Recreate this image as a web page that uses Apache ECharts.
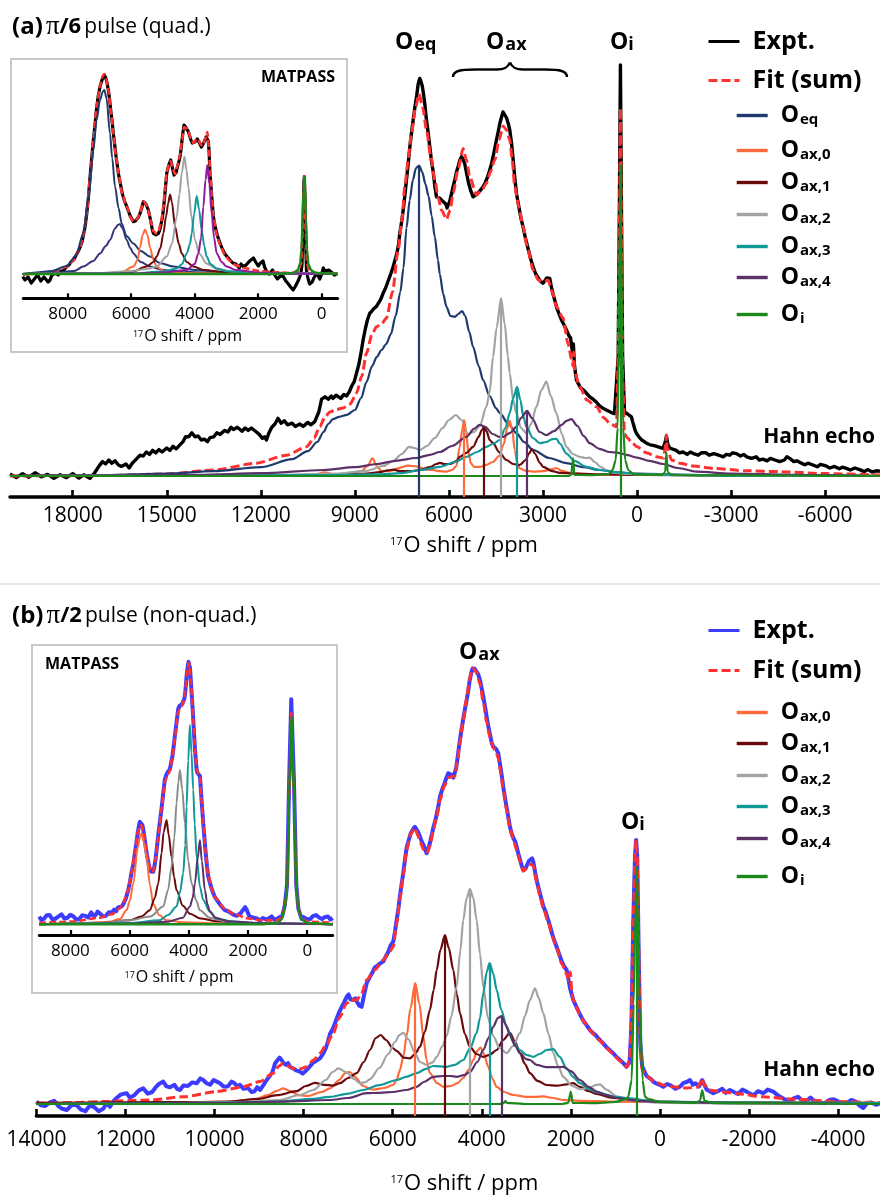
<!DOCTYPE html>
<html>
<head>
<meta charset="utf-8">
<script src="https://cdn.jsdelivr.net/npm/echarts@6/dist/echarts.min.js"></script>
<style>
html,body{margin:0;padding:0;background:#fff;}
#chart{width:880px;height:1196px;}
</style>
</head>
<body>
<div id="chart"></div>
<script>
// ---------- (a) pi/6 pulse, Hahn echo: [ppm, intensity] ----------
const aExpt = [[20000,0.5],[19800,-0.4],[19600,0.6],[19400,-0.3],[19200,0.8],[19000,-0.2],[18800,0.4],[18600,-0.6],[18400,0.3],[18200,-0.4],[18000,0.6],[17800,-0.5],[17650,0.3],[17450,-0.6],[17300,0.8],[17150,2.6],[17050,3.6],[16950,3.0],[16850,4.0],[16750,3.2],[16650,3.8],[16550,2.8],[16450,2.4],[16300,3.0],[16200,2.0],[16100,3.2],[15950,4.4],[15850,5.2],[15750,5.0],[15650,6.0],[15550,5.4],[15450,6.4],[15350,5.8],[15250,6.6],[15150,6.0],[15000,7.0],[14900,6.4],[14800,7.4],[14700,6.8],[14580,7.8],[14480,8.6],[14400,9.8],[14300,9.8],[14200,10.8],[14100,9.8],[14000,10.0],[13900,9.0],[13800,9.2],[13700,8.6],[13620,9.6],[13500,9.8],[13400,10.8],[13300,10.4],[13150,11.4],[13050,11.0],[12950,12.2],[12870,11.6],[12750,12.2],[12600,11.2],[12500,12.0],[12400,11.4],[12300,12.0],[12140,11.0],[12050,10.4],[11950,9.4],[11880,9.8],[11820,9.0],[11750,10.6],[11650,12.2],[11550,13.0],[11450,14.4],[11350,13.2],[11250,13.8],[11150,12.8],[11000,13.2],[10900,12.4],[10760,13.0],[10650,12.4],[10500,13.4],[10400,12.8],[10280,13.6],[10150,16],[10060,19.2],[9950,19.8],[9850,19.2],[9750,20.0],[9694,19.4],[9600,20.2],[9450,19.4],[9350,20.4],[9266,20.0],[9180,21.0],[9100,22.5],[9020,23.6],[8948,25.7],[8870,28],[8800,31],[8737,34],[8660,37],[8600,39],[8524,40.7],[8460,41.2],[8400,41.8],[8340,41.6],[8310,42.4],[8250,43.2],[8200,43.8],[8150,44.6],[8099,45.7],[8020,47.0],[7950,48.5],[7870,50.2],[7780,52.3],[7700,54.5],[7650,56],[7600,58.2],[7567,60.7],[7500,64],[7450,67],[7400,70.5],[7354,74],[7300,78],[7250,82],[7190,86],[7141,89],[7080,92.5],[7030,95],[6980,98],[6930,99.4],[6890,98.6],[6850,97.5],[6810,95.5],[6770,93],[6730,90],[6690,87.5],[6650,85],[6610,82.3],[6560,79],[6500,76],[6450,72.5],[6397,69.8],[6350,70.2],[6300,69.5],[6240,69.0],[6186,68.6],[6140,68.2],[6100,68],[6060,67.0],[6027,67.3],[5970,68.8],[5920,70.5],[5870,72.2],[5813,74],[5760,76],[5700,77.5],[5650,79],[5600,79.8],[5550,79.2],[5494,78],[5440,75.8],[5380,73.5],[5300,71.2],[5230,69.8],[5170,70.0],[5100,70.5],[5000,71.4],[4911,72.3],[4850,73.2],[4780,74.5],[4710,76.2],[4643,78],[4560,81],[4484,84],[4430,86],[4380,88],[4320,89.8],[4273,91],[4210,90.6],[4160,89.5],[4110,88.2],[4059,86.5],[4000,83],[3950,79],[3900,74.6],[3846,70.7],[3790,68.2],[3740,66],[3690,64],[3635,62.3],[3560,59.5],[3480,57],[3400,54.5],[3316,52.3],[3230,50.5],[3150,49.5],[3070,48.6],[2997,48.2],[2940,48.8],[2880,49.5],[2830,50.0],[2784,49.4],[2730,47.2],[2680,45.5],[2620,43.8],[2570,42.3],[2490,40.6],[2411,39],[2330,37.8],[2250,36.5],[2180,35.2],[2120,34.5],[2060,31],[2030,33],[2000,28],[1960,25.5],[1932,24],[1880,23.2],[1800,22],[1720,21.6],[1650,21],[1580,20.4],[1508,19.8],[1400,19.2],[1300,18.5],[1200,17.6],[1100,17],[1040,16.8],[979,16.5],[900,16.2],[800,15.8],[720,15.6],[657,15.3],[600,30],[560,70],[530,102.75],[500,70],[460,30],[400,16],[340,15.8],[300,15.5],[240,15.0],[179,14.8],[140,13.6],[100,12.5],[60,11.4],[19,10.7],[-60,9.8],[-150,9],[-230,8.6],[-300,8.2],[-420,7.8],[-550,7.6],[-700,7.2],[-830,6.9],[-900,8.5],[-937,10],[-980,8],[-1040,7.0],[-1100,6.6],[-1250,6.4],[-1350,5.8],[-1467,6],[-1600,5.4],[-1700,6.0],[-1800,5.6],[-1950,5.2],[-2050,5.8],[-2200,5.8],[-2300,5.2],[-2450,5.6],[-2600,5.2],[-2750,4.8],[-2850,5.4],[-2955,5.2],[-3050,5.8],[-3170,5.6],[-3300,5.0],[-3400,5.4],[-3500,4.8],[-3650,4.4],[-3800,4.8],[-3900,4.0],[-4018,4.2],[-4150,3.8],[-4250,4.4],[-4400,4.0],[-4550,3.6],[-4700,4.0],[-4780,4.8],[-4869,4.4],[-5000,3.6],[-5100,3.8],[-5200,3.4],[-5350,2.8],[-5450,3.2],[-5612,2.75],[-5750,2.3],[-5850,2.9],[-6000,2.6],[-6150,2.0],[-6300,2.4],[-6450,1.8],[-6550,2.2],[-6677,1.9],[-6800,1.5],[-6950,2.0],[-7100,1.6],[-7250,1.1],[-7350,1.6],[-7500,1.0],[-7634,1.3],[-7750,1.2]];
const aFit = [[20000,0],[17000,0.1],[15000,0.5],[13500,1.5],[12140,3.2],[11180,5.2],[10540,7.3],[10300,9.5],[10120,12.3],[9950,14.8],[9800,16],[9600,16.6],[9375,17],[9150,18],[8948,20.7],[8780,25],[8629,30.7],[8450,35.5],[8310,37.3],[8150,38],[7991,39.5],[7800,46],[7620,56.5],[7500,64],[7407,72.3],[7300,79],[7195,85.7],[7070,92],[6951,95.5],[6830,92],[6716,86.5],[6580,80],[6451,74],[6340,69.5],[6237,66.5],[6078,64.2],[5960,66.5],[5866,70.7],[5700,77],[5548,81.9],[5440,79],[5335,74.8],[5122,70.25],[4950,71.5],[4802,73.2],[4680,76],[4538,79],[4400,84],[4273,87.5],[4160,86.5],[4059,84],[3980,79],[3900,72.3],[3760,67],[3635,62.3],[3480,56.5],[3316,51.5],[3150,49],[2997,48.6],[2838,49],[2700,46],[2570,42.3],[2360,39.5],[2200,33],[2080,29],[2045,27.5],[2020,31],[1990,26],[1827,22.3],[1600,19],[1295,17.3],[1050,14.5],[870,13.2],[657,12.3],[600,30],[560,65],[530,92],[500,65],[460,25],[400,10.5],[300,9.5],[150,8.2],[0,7.3],[-300,5.8],[-617,4.8],[-850,4.5],[-920,8],[-937,10.25],[-960,7],[-1100,4],[-1360,3.2],[-1800,2.5],[-2423,1.9],[-3500,1.3],[-4500,1.1],[-6000,0.6],[-7750,0.25]];
const aOeq = [[20000,0],[17000,0.2],[15000,0.6],[13500,1.2],[12000,2.2],[11000,4.2],[10500,6.2],[10200,8.5],[10000,11],[9850,13],[9700,14.2],[9500,14.8],[9250,15.3],[9000,16.5],[8800,19.5],[8629,23.5],[8450,27.5],[8300,29.8],[8150,31.5],[8000,33],[7850,35.5],[7700,40],[7550,46],[7450,52],[7354,62],[7250,69],[7150,74],[7050,77],[6950,77.6],[6850,76],[6750,73],[6650,70],[6550,65],[6451,59.8],[6350,54],[6292,50.5],[6180,45.5],[6078,42.3],[5950,40],[5813,39.8],[5700,40.5],[5580,41.2],[5480,40],[5350,36],[5230,32.3],[5050,27.5],[4911,24],[4700,20],[4500,17],[4378,15.7],[4100,13],[3846,10.7],[3600,8.5],[3316,6.5],[2800,4.5],[2252,3.2],[1700,2.2],[1189,1.5],[600,0.9],[0,0.6],[-1500,0.3],[-3000,0.1],[-7750,0]];
const aOax0 = [[20000,0],[12000,0.1],[10300,0.3],[9958,0.9],[9700,0.4],[9200,0.5],[8800,1.2],[8600,2.5],[8438,4.4],[8300,2.5],[8150,1.2],[7887,1.2],[7600,2],[7300,2.6],[7036,2.4],[6700,1.6],[6505,1.5],[6300,1.2],[6080,1.1],[5900,1.5],[5761,2.5],[5655,7.3],[5580,11.5],[5516,14],[5450,11],[5380,6],[5300,3.2],[5200,2.3],[5000,2.3],[4805,2.8],[4600,3.5],[4400,5],[4250,8],[4140,12],[4061,13.8],[3980,11.5],[3900,6.5],[3820,3.2],[3741,1.9],[3550,1.3],[3316,1.1],[3000,1.2],[2750,1.6],[2573,2],[2400,1.3],[2100,0.7],[1500,0.4],[0,0.3],[-3000,0.2],[-7750,0.1]];
const aOax1 = [[20000,0],[12000,0.1],[9500,0.3],[8629,0.6],[8200,1],[7950,1.4],[7780,1.6],[7550,1.2],[7200,1.2],[6929,1.5],[6600,2.2],[6400,3],[6292,3.3],[6150,3],[5950,3],[5750,3.8],[5655,4.8],[5442,5.8],[5230,7.3],[5050,9.8],[4950,11.5],[4878,12.3],[4800,11.2],[4700,9],[4592,8.2],[4400,6],[4167,4],[3950,3],[3741,2.75],[3550,4],[3450,5.6],[3350,6.7],[3250,5.5],[3100,3.3],[2997,2.3],[2700,1.2],[2466,0.8],[2000,0.6],[1000,0.4],[0,0.3],[-3000,0.1],[-7750,0]];
const aOax2 = [[20000,0],[12000,0.2],[9500,0.6],[8629,1.3],[8100,2.5],[7780,3.75],[7500,5.5],[7270,7.3],[7100,7],[6929,6.5],[6700,7.5],[6450,9.5],[6200,12],[6000,14],[5781,15.25],[5600,14],[5388,10.5],[5200,11],[5018,12.5],[4805,17.3],[4700,21],[4592,29.8],[4480,37],[4337,44.4],[4220,38],[4120,30],[4061,25.7],[3950,19],[3848,15.7],[3700,12],[3530,10.7],[3380,13],[3211,17.3],[3050,21.5],[2891,23.6],[2750,20],[2573,15.7],[2400,10.5],[2254,7.3],[2050,5.5],[1829,4.8],[1650,4.5],[1510,4.6],[1350,3.5],[1150,2.2],[978,1.5],[700,0.8],[300,0.5],[0,0.4],[-3000,0.1],[-7750,0]];
const aOax3 = [[20000,0],[10000,0.2],[8000,0.5],[7568,0.7],[6900,1.5],[6292,2.3],[5800,3.5],[5442,4.8],[5100,6],[4805,7.3],[4600,8],[4378,9],[4200,12],[4061,15.7],[3950,19.5],[3826,22.3],[3720,19],[3630,15],[3530,12.3],[3320,9.5],[3105,8.2],[2900,8.5],[2700,9.2],[2573,9.3],[2450,8],[2254,5.6],[2000,3.8],[1616,2.3],[1200,1.5],[600,0.9],[0,0.5],[-1500,0.3],[-3000,0.1],[-7750,0]];
const aOax4 = [[20000,0],[17000,0.1],[14000,0.3],[12000,0.7],[10000,1.5],[9000,2.2],[8300,3],[7700,3.8],[7036,4.5],[6610,5.3],[6292,6],[5900,7.5],[5442,9.8],[5200,11.8],[5018,12.8],[4850,12.3],[4600,10.5],[4400,9.8],[4273,9.8],[4050,10.8],[3848,12.3],[3700,14.5],[3508,16.3],[3350,14.5],[3105,11],[2891,10.2],[2650,11.2],[2400,12.8],[2250,13.8],[2094,14.2],[1900,12.5],[1700,10],[1510,8.2],[1200,6.8],[872,6],[600,5.8],[340,5.3],[0,4.6],[-400,3.8],[-829,3],[-1300,2],[-1894,1.1],[-3000,0.6],[-5000,0.3],[-7750,0]];
const aOi = [[20000,0],[3000,0],[2200,0],[2100,0.3],[2040,4.5],[2000,0.3],[1500,0.2],[900,0.5],[780,1.5],[680,4],[620,12],[580,35],[550,65],[529,77.75],[510,65],[480,35],[440,12],[380,4],[280,1.5],[100,0.4],[-800,0.3],[-900,1],[-937,6],[-975,1],[-1100,0.2],[-7750,0]];

// ---------- (a) inset: MATPASS ----------
const iaExpt = [[9417,-1.3],[9350,-3],[9300,-4],[9250,-1.5],[9200,-2],[9150,-4.5],[9100,-5.5],[9050,-2.5],[9000,-3],[8950,-0.5],[8900,-1],[8850,-3.5],[8800,-4.5],[8750,-1.5],[8700,-2.5],[8620,-4],[8557,-3],[8500,-0.5],[8450,-1],[8380,0.5],[8300,-0.5],[8220,1.5],[8150,1.5],[8090,2.5],[8031,3.7],[7960,4.5],[7900,6],[7820,7],[7750,9],[7680,11],[7613,13.3],[7550,16],[7500,20],[7450,24],[7403,30],[7350,38],[7300,48],[7250,57],[7193,67],[7140,75],[7090,83],[7040,89],[6983,93.7],[6940,96],[6900,98],[6847,99.5],[6810,98.5],[6780,97],[6750,94.5],[6721,92],[6680,87],[6640,81],[6600,76],[6564,70.3],[6520,64.5],[6480,59],[6440,54.5],[6406,50.3],[6340,45],[6280,40],[6210,36.5],[6142,33.7],[6080,31],[6030,29],[5980,27.5],[5934,26.2],[5870,26.5],[5820,27.5],[5770,28.5],[5723,30.3],[5670,33],[5619,36.2],[5580,36],[5540,35],[5500,33.5],[5461,32],[5420,29],[5380,26],[5340,22.5],[5304,20.3],[5260,20],[5220,19.5],[5180,19.5],[5146,20.3],[5100,22],[5060,25],[5020,28],[4989,32],[4960,36.5],[4930,42],[4900,47],[4882,50.3],[4820,54.5],[4756,57],[4720,54.5],[4690,52],[4650,49.5],[4620,48.7],[4580,51],[4540,54],[4500,56],[4463,58.7],[4430,62.5],[4400,67],[4370,71],[4337,74.5],[4300,74],[4270,73],[4235,72],[4201,71.2],[4160,69],[4120,67],[4080,65.5],[4044,64.5],[4000,66],[3960,67],[3920,67.5],[3887,67],[3850,65.5],[3820,64.5],[3790,63.5],[3761,63.7],[3720,65.5],[3680,67],[3640,68.5],[3603,69.5],[3575,66.5],[3550,62],[3535,56],[3518,50.3],[3490,44],[3460,38],[3435,33],[3414,28.7],[3360,24],[3300,20],[3250,17.5],[3203,15.3],[3130,12.5],[3050,10],[2970,8.5],[2888,7],[2800,5.5],[2700,5],[2600,3],[2540,5],[2469,3.7],[2380,4.5],[2300,6],[2230,7],[2150,8],[2080,6],[2000,4],[1930,5.5],[1850,6.5],[1800,3.5],[1732,1.2],[1650,0],[1550,2],[1480,-0.5],[1400,-2.5],[1300,-1],[1209,-1.3],[1130,-3.5],[1050,-5],[980,-6.5],[900,-8],[840,-6.5],[780,-6],[730,-3],[683,-1],[650,1],[620,5],[590,25],[560,46],[548,48.7],[530,40],[505,15],[480,2],[450,-1],[420,-3],[380,-5],[340,-6],[300,-4],[250,-2],[200,-1],[157,0.3],[110,-1],[60,-2.5],[0,0],[-50,3],[-100,1.5],[-150,0.5],[-220,2],[-300,1],[-400,-0.5],[-500,0.3]];
const iaFit = [[9417,-0.3],[9000,0.2],[8500,1],[8031,3.5],[7800,7],[7613,13.3],[7500,20],[7403,30],[7300,47],[7193,67],[7090,84],[6983,94],[6900,99],[6847,100],[6780,97.5],[6721,92],[6640,81],[6564,70.3],[6480,59],[6406,50.3],[6280,40],[6142,33.7],[6030,28.5],[5934,26.2],[5820,27.5],[5723,30.3],[5619,36.2],[5540,35],[5461,32],[5380,26],[5304,21.5],[5220,20.3],[5146,21],[5060,26],[4989,33],[4930,43],[4882,51],[4810,55],[4756,56.5],[4690,52.5],[4620,50],[4540,54.5],[4463,59.5],[4400,67],[4337,73.5],[4270,73],[4201,71.2],[4120,67.5],[4044,65.5],[3960,67],[3887,67.5],[3820,65],[3761,64],[3680,67],[3603,71],[3550,63],[3518,52],[3460,39],[3414,29],[3300,19.5],[3203,14.5],[3050,9.5],[2888,6.5],[2700,4.3],[2469,3],[2000,1.6],[1500,0.9],[1000,0.5],[750,1],[650,5],[600,20],[570,42],[548,49],[525,42],[500,20],[460,5],[400,1.5],[157,0.5],[-500,0.2]];
const iaOeq = [[9417,0],[9000,0.8],[8500,1.5],[8031,4],[7750,9],[7508,20.3],[7350,38],[7193,62],[7090,77],[6983,87],[6900,91],[6847,92],[6780,88],[6669,70.3],[6600,58],[6511,43.7],[6400,33],[6301,25.3],[6150,19],[5934,15.3],[5700,11.5],[5409,8.7],[5100,5.5],[4673,3.7],[4000,2],[3308,1.2],[2000,0.5],[0,0.2],[-500,0.1]];
const iaOeq2 = [[9417,0],[8500,0.5],[7800,1.5],[7508,3.7],[7200,6.5],[6983,10.3],[6800,14],[6669,17],[6511,22.8],[6420,24.5],[6354,25],[6280,23],[6142,17],[6030,13],[5934,10.3],[5700,6],[5409,3.7],[5000,2],[4500,1.2],[3500,0.6],[2000,0.2],[-500,0]];
const iaOax0 = [[9417,0],[7000,0.3],[6300,1],[5934,3.7],[5800,7],[5723,13.3],[5640,19.5],[5566,22.3],[5490,19.5],[5409,13.3],[5300,7],[5199,3.7],[5000,1.6],[4673,0.8],[4000,0.4],[2000,0.1],[-500,0]];
const iaOax1 = [[9417,0],[7000,0.3],[6000,1],[5514,3.7],[5300,6],[5199,8.7],[5080,13],[4989,20.3],[4900,29],[4840,35],[4778,39.8],[4720,36],[4620,23.7],[4500,15],[4410,10.3],[4250,6],[4044,3.7],[3700,2],[3000,0.8],[2000,0.3],[-500,0]];
const iaOax2 = [[9417,0],[7000,0.5],[6000,1.5],[5500,2.5],[5199,3.7],[4882,8.7],[4720,15],[4567,28.7],[4480,40],[4410,50.3],[4326,58.7],[4260,52],[4201,43.7],[4100,28],[3992,17],[3850,10],[3625,5.3],[3300,2.5],[2800,1.2],[2000,0.5],[-500,0]];
const iaOax3 = [[9417,0],[6000,0.3],[5000,1.2],[4567,2.8],[4400,5],[4253,10.3],[4150,15],[4095,20.3],[4020,30],[3937,39],[3860,32],[3782,22],[3700,14],[3625,8.7],[3500,5],[3308,2.8],[3000,1.4],[2000,0.5],[-500,0]];
const iaOax4 = [[9417,0],[6000,0.3],[5000,0.8],[4253,2],[4000,5],[3887,10.3],[3800,18],[3729,33.7],[3660,47],[3603,54.5],[3540,45],[3467,30.3],[3390,18],[3308,10.3],[3150,6],[2993,3.7],[2700,2],[2000,0.8],[1000,0.3],[-500,0]];
const iaOi = [[9417,0],[1500,0],[900,0.5],[750,2],[683,5.3],[640,12],[600,28],[570,43],[548,48.7],[525,43],[495,28],[460,12],[420,5],[337,2],[200,0.5],[-500,0]];

// ---------- (b) pi/2 pulse, Hahn echo ----------
const bExpt = [[14000,0.6],[13900,-0.3],[13800,-0.5],[13700,0.4],[13600,0.8],[13500,-0.6],[13420,-1.2],[13320,-1.5],[13200,-0.2],[13100,-0.3],[13000,-1.4],[12900,-1.8],[12800,-0.4],[12700,-0.8],[12600,-1.8],[12500,-1.2],[12420,0.2],[12348,-0.7],[12280,0.6],[12200,1.5],[12100,2.4],[11974,2.7],[11900,1.6],[11800,2.2],[11700,3.4],[11601,3.9],[11500,2.6],[11400,3],[11320,4.2],[11250,5],[11152,5.6],[11080,4.4],[11000,4.2],[10900,4.8],[10840,3.8],[10777,3.5],[10700,4.6],[10600,4.5],[10500,5.4],[10400,5.2],[10320,6.4],[10254,6],[10180,5.2],[10100,4.8],[10020,6.0],[9950,5.6],[9879,5.2],[9800,4.4],[9700,4.4],[9620,5.6],[9550,5.2],[9490,4.4],[9430,4.8],[9350,3.8],[9250,4],[9170,3.0],[9100,3.2],[9040,4.2],[8981,3.5],[8900,4.8],[8831,6],[8760,7.0],[8700,8],[8640,10.2],[8600,10],[8540,11.6],[8494,11],[8450,10.2],[8400,9.8],[8350,10.2],[8300,9.2],[8233,8.9],[8170,8.4],[8100,8.2],[8020,7.6],[7932,8.5],[7860,9.4],[7800,10.2],[7720,10.8],[7633,11.4],[7560,12.6],[7500,14],[7450,15.8],[7409,17.5],[7335,19],[7270,21],[7200,23],[7110,25],[7034,26.8],[6990,27.4],[6950,26.2],[6886,26],[6840,26.4],[6800,25.5],[6750,24.6],[6697,24.3],[6640,27.4],[6585,30.2],[6520,31.6],[6450,33],[6400,34.2],[6350,34.5],[6280,35.2],[6213,35.6],[6160,36.8],[6100,38],[6040,39.8],[5988,40.6],[5950,43],[5912,46],[5870,49],[5838,52],[5800,55],[5760,58],[5720,61.5],[5688,64],[5640,66],[5600,67.5],[5550,68.6],[5501,69.3],[5460,68.8],[5430,68],[5388,66.8],[5340,65.4],[5300,64.5],[5270,63.6],[5238,62.7],[5200,63.8],[5160,65.5],[5120,67.4],[5090,69],[5050,70.6],[5010,72.5],[4970,74.8],[4939,76.8],[4890,78.6],[4840,80],[4800,81.4],[4753,82.7],[4710,82.6],[4680,82.3],[4640,81.6],[4603,81.8],[4575,84],[4550,86],[4520,88.6],[4490,91],[4455,93.6],[4420,96],[4380,98.6],[4340,101],[4300,103.6],[4270,106],[4235,107.8],[4206,108.9],[4160,108.8],[4120,108.3],[4080,107.4],[4041,106],[4000,103.8],[3960,101.5],[3925,99.2],[3891,96.8],[3850,94.2],[3810,92],[3775,90.2],[3742,89.3],[3710,89.6],[3680,88.8],[3655,88.4],[3630,87.7],[3600,85.6],[3570,83.5],[3545,81.6],[3518,79.3],[3480,76.6],[3440,74],[3400,71.4],[3368,69.3],[3330,67.6],[3290,66.5],[3250,65.6],[3218,64.3],[3180,62.6],[3140,61],[3100,59.4],[3069,58.5],[3020,58.8],[2980,59.8],[2940,60.8],[2900,61],[2870,61.4],[2844,60.6],[2810,58.4],[2770,56],[2730,54.2],[2694,52.7],[2660,51.2],[2620,49.5],[2560,47.8],[2508,46],[2460,44.2],[2420,42.5],[2370,40.8],[2320,39.3],[2260,37.4],[2200,35.5],[2150,34.4],[2095,33.5],[2060,31.6],[2020,29],[1980,27.4],[1946,26],[1880,24.4],[1800,22.5],[1750,21.4],[1700,20.5],[1640,19.6],[1572,18.5],[1510,17.8],[1450,17.3],[1400,16.6],[1347,16],[1280,15.2],[1200,14.2],[1120,13.4],[1048,12.7],[980,11.8],[900,11],[820,10.2],[748,9.3],[680,10.5],[640,20],[600,45],[560,62],[535,66],[510,62],[480,40],[440,15],[400,9.5],[350,8.2],[300,7],[250,6.6],[200,6.2],[150,5.6],[100,5.2],[0,4.8],[-74,4.3],[-160,5.0],[-250,4.6],[-350,3.8],[-449,4.3],[-520,5.2],[-600,5.5],[-674,6],[-740,4.8],[-800,5.2],[-880,4.4],[-950,6],[-1000,4.8],[-1050,3.6],[-1120,3.2],[-1197,2.7],[-1300,3.2],[-1400,3.8],[-1480,2.8],[-1571,3.5],[-1660,3.0],[-1750,2.5],[-1850,3.6],[-1946,3.1],[-2020,2.6],[-2100,2.2],[-2200,3.2],[-2320,2.7],[-2420,3.6],[-2545,3.1],[-2620,2.4],[-2700,1.8],[-2800,1.2],[-2919,0.6],[-3000,1.4],[-3100,1.8],[-3200,0.8],[-3300,0.8],[-3380,1.6],[-3442,1],[-3560,0.4],[-3700,0.2],[-3800,1.0],[-3900,1.2],[-4050,0.4],[-4191,0.2],[-4300,1.0],[-4400,0.6],[-4480,-0.4],[-4565,-1],[-4650,0.2],[-4750,0.4],[-4850,-0.2],[-4950,0.2]];
const bFit = [[14000,0.2],[13000,0.4],[12573,0.6],[11451,1],[10703,1.8],[9954,3.1],[9355,4.3],[8981,5.6],[8682,7.7],[8550,9.5],[8457,10.2],[8350,9.5],[8233,8.9],[8080,8.8],[7932,9.3],[7780,11],[7633,12.7],[7480,15],[7335,17.7],[7200,21.5],[7034,25.2],[6930,26],[6810,26],[6700,27.5],[6585,31],[6400,33.5],[6212,36],[6100,37.5],[5988,39.3],[5912,45],[5838,51.5],[5760,57.5],[5688,63.5],[5600,67.5],[5501,69],[5430,67],[5388,65.5],[5300,63.5],[5238,62.7],[5160,64.5],[5090,68.5],[5010,72],[4939,76],[4840,79.5],[4753,81.5],[4680,81.8],[4603,82],[4550,85.5],[4490,90.5],[4420,96],[4340,101.5],[4270,106.5],[4206,109],[4120,108],[4041,105],[3960,100],[3891,95.5],[3810,91.5],[3742,89],[3680,88],[3630,86.5],[3570,82.5],[3518,78.5],[3440,73.5],[3368,69],[3290,66],[3218,63.5],[3140,60.5],[3069,58.2],[2980,59],[2900,60],[2844,59.5],[2770,55.5],[2694,52],[2620,49],[2508,45.5],[2420,42],[2320,39],[2200,35],[2095,32.5],[2050,31],[2010,33],[1980,28],[1946,26],[1800,22.5],[1700,20.5],[1572,18.5],[1450,17],[1347,15.8],[1200,14],[1048,12.5],[900,10.8],[748,9.3],[680,11],[640,22],[600,46],[560,62],[535,66],[510,62],[480,40],[440,15],[400,8.5],[300,7],[150,5.8],[-74,4.75],[-300,4.3],[-600,4],[-850,4.2],[-920,5.5],[-950,6.4],[-980,5],[-1100,3.5],[-1400,3],[-1800,2.5],[-2300,1.8],[-3000,1.2],[-4000,0.6],[-4950,0.3]];
const bOax0 = [[14000,0.1],[12000,0.2],[10500,0.3],[9589,0.6],[9100,1.2],[8800,2.2],[8600,3.3],[8457,3.9],[8300,3.2],[8100,2.2],[7900,2],[7600,3],[7409,3.9],[7200,6],[7060,7.8],[6960,8],[6850,6.8],[6660,4.5],[6511,3.8],[6437,3.6],[6200,4],[5987,4.8],[5913,6],[5838,8.5],[5760,12],[5687,17],[5600,24],[5494,30.2],[5400,25],[5314,17],[5240,11],[5165,7.7],[5000,5.2],[4865,4.3],[4700,4.5],[4550,5.2],[4416,6.5],[4300,8.5],[4192,11],[4100,13.3],[4026,14.1],[3950,12.5],[3854,9.3],[3760,6.3],[3666,4.3],[3500,3],[3292,2.25],[3000,1.8],[2800,1.8],[2619,1.9],[2400,1.5],[2170,1],[1800,0.8],[1000,0.6],[0,0.5],[-2000,0.4],[-4950,0.3]];
const bOax1 = [[14000,0.3],[12000,0.4],[10500,0.5],[9654,0.6],[9000,1.3],[8600,2.2],[8158,3.2],[7950,4.5],[7747,5.3],[7550,4.8],[7350,4.6],[7184,5.2],[7000,6.5],[6810,7.7],[6650,10.5],[6511,13.5],[6380,16.5],[6271,17.25],[6150,16],[6000,14],[5913,13.3],[5750,11.6],[5613,11.4],[5500,12.5],[5389,14.3],[5280,18],[5165,23.5],[5080,28.5],[5013,33.5],[4930,38.5],[4827,42.25],[4740,39],[4640,33.5],[4560,27.5],[4490,22.7],[4380,17.5],[4266,14.3],[4120,12.5],[3966,11.8],[3820,12.3],[3666,13.5],[3520,16],[3368,17.8],[3250,15.5],[3143,12.7],[3030,10],[2919,7.7],[2750,5.8],[2545,4.75],[2300,4.6],[2100,4.9],[1946,5.2],[1800,4.3],[1600,3.2],[1422,2.5],[1100,1.6],[674,1.1],[300,0.8],[0,0.6],[-1000,0.4],[-3000,0.3],[-4950,0.2]];
const bOax2 = [[14000,0],[11000,0.2],[9500,0.5],[8532,1],[8100,2.2],[7783,3.5],[7500,6],[7350,8],[7222,8.9],[7050,8],[6860,6.2],[6735,5.2],[6600,5.5],[6511,6.2],[6300,9],[6100,12.5],[5950,15.5],[5850,17.2],[5763,17.8],[5650,16.2],[5500,12.8],[5390,10.5],[5238,9.8],[5100,10.4],[5013,11.8],[4880,14.5],[4790,17],[4680,22],[4566,29.3],[4480,38.5],[4416,46],[4340,51.5],[4266,53.7],[4190,51.5],[4117,46],[4040,37.5],[3966,29.3],[3860,21.5],[3742,17],[3600,14],[3443,12.7],[3300,14.5],[3143,17.7],[3030,22],[2919,26],[2807,28.9],[2720,26.5],[2620,22.7],[2500,17.5],[2395,12.7],[2280,9.3],[2170,6.8],[1980,4.6],[1796,3.7],[1600,4],[1422,4.8],[1347,4.9],[1200,3.6],[973,1.9],[700,1],[300,0.5],[0,0.3],[-2000,0.1],[-4950,0]];
const bOax3 = [[14000,0],[10000,0.3],[8532,0.6],[7800,1.3],[7409,1.8],[7000,2.6],[6660,3.5],[6300,4.7],[5913,6],[5700,6.8],[5462,7.7],[5250,8.8],[5090,9.5],[4950,9.4],[4790,9.3],[4600,9.8],[4416,11],[4260,14],[4117,17.7],[4040,21.5],[3966,27.7],[3890,33],[3824,35.2],[3740,32.5],[3666,28.5],[3560,23.5],[3443,19.3],[3290,15.5],[3143,13.5],[3000,12.3],[2844,11.8],[2700,12.5],[2540,13.5],[2395,13.7],[2250,11.8],[2096,8.9],[1950,6.8],[1796,5.2],[1600,3.8],[1422,2.9],[1000,1.8],[674,1.4],[300,0.9],[0,0.6],[-1500,0.4],[-4950,0.3]];
const bOax4 = [[14000,0],[10000,0.2],[8500,0.6],[7409,1],[7000,1.5],[6585,2.7],[6286,2.8],[6000,3],[5700,3.5],[5462,4.3],[5300,5.5],[5089,6.8],[4865,7],[4700,7],[4566,6.8],[4400,7.2],[4266,8],[4100,10.5],[3966,13.5],[3850,16.5],[3742,19.3],[3640,21.5],[3554,22],[3470,20],[3368,17.3],[3250,14.5],[3143,12.7],[3000,11.2],[2919,11],[2769,9.8],[2550,9.2],[2320,9.2],[2171,9.3],[2000,8.2],[1796,6],[1600,4.3],[1422,3.1],[1200,2.2],[973,1.5],[500,0.8],[0,0.5],[-2000,0.2],[-4950,0]];
const bOi = [[14000,0],[4000,0],[3600,0],[3500,0.3],[3470,0.8],[3440,0.3],[3000,0],[2200,0],[2060,0.3],[2000,3.1],[1960,0.3],[1500,0.2],[1000,0.5],[760,1.2],[711,1.8],[635,6],[590,25],[545,50],[523,59.3],[500,50],[460,25],[388,6],[337,1.8],[250,1.2],[0,0.5],[-800,0.3],[-900,0.8],[-950,3.5],[-1000,0.8],[-1200,0.2],[-4950,0]];

// ---------- (b) inset: MATPASS ----------
const ibExpt = [[9054,2.9],[8980,1.6],[8900,2],[8800,3.4],[8700,3.5],[8600,1.8],[8500,2.2],[8400,3.0],[8300,3.8],[8200,2.2],[8100,2.5],[8000,3.6],[7900,3],[7800,1.8],[7700,2],[7600,3.4],[7500,3.2],[7400,2.6],[7300,4.5],[7220,3.2],[7150,3.5],[7080,4.8],[7003,4.1],[6900,3.0],[6800,3.2],[6700,4.6],[6600,4.5],[6520,5.6],[6450,5],[6390,6.4],[6328,6],[6260,6.8],[6200,8],[6120,10],[6047,13],[5990,16],[5930,20],[5870,23],[5821,27],[5770,31],[5720,35],[5680,37.6],[5652,38.8],[5625,39.2],[5600,38.5],[5570,37.6],[5541,36.2],[5500,33],[5450,29],[5410,26],[5372,23.7],[5330,21.4],[5280,20],[5240,19.4],[5203,19.9],[5160,22],[5120,25],[5075,29.4],[5034,33.6],[4980,38.6],[4920,44],[4860,50],[4808,55],[4760,56.6],[4720,57.5],[4680,57.8],[4639,58.8],[4600,61],[4550,64],[4510,67.6],[4470,71.4],[4420,76],[4358,81.6],[4310,82.8],[4260,83],[4225,83.4],[4189,84.1],[4150,85.4],[4120,88],[4095,91],[4074,94.2],[4050,96.4],[4030,98],[4008,99.4],[3986,100],[3960,97],[3930,92],[3890,85],[3851,77.8],[3820,71.6],[3790,66],[3760,61.8],[3737,58.8],[3710,57.4],[3680,57],[3650,56.8],[3625,56.2],[3598,52],[3570,47],[3540,42.6],[3514,38.5],[3470,32.4],[3430,27],[3390,22.4],[3345,18.2],[3270,15],[3200,12.5],[3130,10.6],[3063,9.4],[2950,7.6],[2800,5.5],[2650,4.8],[2500,3.7],[2380,3.2],[2250,4.2],[2170,5.4],[2100,6.5],[2047,5.6],[2000,4.2],[1950,3],[1850,2.6],[1700,2.2],[1600,1.4],[1500,2.4],[1372,1.8],[1280,2.4],[1200,3],[1100,1.6],[1000,2.2],[920,2.8],[850,3],[760,7],[683,15],[610,55],[540,85.2],[450,55],[370,15],[300,6],[190,2],[140,2.8],[100,3],[0,1.8],[-100,2],[-200,3.2],[-300,3.5],[-400,2.6],[-500,2],[-600,2.8],[-700,3],[-780,1.8],[-860,2.4]];
const ibFit = [[9054,0.5],[8000,1],[7003,2.5],[6600,3.8],[6328,6],[6200,8.5],[6047,13],[5930,20],[5821,27],[5720,35],[5652,37.5],[5600,37.5],[5541,35.5],[5450,29],[5372,23.5],[5280,20],[5203,20],[5120,25],[5034,33],[4920,44],[4808,54],[4720,56.5],[4639,58],[4550,63.5],[4470,71],[4358,80.5],[4260,82.5],[4189,84],[4120,88],[4074,94],[4030,97.5],[3986,99],[3930,91.5],[3851,78],[3790,66],[3737,59],[3680,57],[3625,56],[3570,47],[3514,38.5],[3430,27],[3345,18.5],[3200,12.5],[3063,9.5],[2800,6],[2500,4],[2000,2.2],[1500,1.5],[1000,1.5],[865,2.5],[760,6.5],[683,14],[610,50],[540,80],[450,50],[370,14],[300,6],[190,2],[0,1],[-860,0.6]];
const ibOax0 = [[9054,0],[7500,0.5],[6700,1],[6328,2],[6103,5.3],[5990,9],[5878,15.4],[5720,29.3],[5650,33],[5595,34.5],[5520,31],[5427,25.5],[5315,15],[5203,7.8],[5000,3.5],[4752,1.5],[4200,0.8],[3000,0.3],[-860,0]];
const ibOax1 = [[9054,0],[7000,0.5],[6000,1.5],[5600,3],[5315,5.3],[5150,10],[5034,15.4],[4920,27],[4850,35],[4752,39.5],[4680,34],[4583,25.5],[4500,18],[4414,12.9],[4200,7],[3964,4],[3600,2.2],[3100,1.2],[2000,0.4],[-860,0]];
const ibOax2 = [[9054,0],[7000,0.5],[6000,1.5],[5300,3],[4864,6.7],[4700,13],[4583,21.9],[4490,33],[4414,46],[4350,54],[4301,58.4],[4220,51],[4132,38.3],[4020,24],[3907,15.6],[3750,9],[3625,5.3],[3300,2.5],[2800,1.2],[2000,0.5],[-860,0]];
const ibOax3 = [[9054,0],[6000,0.5],[5000,1.5],[4700,3.5],[4414,6.7],[4300,12],[4189,19.4],[4120,30],[4076,44.6],[4020,62],[3963,75.5],[3910,65],[3851,50.9],[3800,38],[3737,25.6],[3620,14],[3514,9.2],[3300,5],[3063,2.2],[2500,1],[1500,0.4],[-860,0]];
const ibOax4 = [[9054,0],[6000,0.3],[4700,1],[4200,2.5],[3963,6.7],[3870,10],[3794,15.4],[3700,25],[3625,31.9],[3560,24],[3456,12.9],[3370,7.5],[3287,4.7],[3100,2.5],[2700,1.2],[1500,0.4],[-860,0]];
const ibOi = [[9054,0],[1500,0],[1000,0.5],[865,1.8],[760,6],[683,13],[610,50],[527,78.6],[445,50],[370,13],[300,6],[190,1.8],[0,0.5],[-860,0]];

// ---------- tick labels ----------
const ticksA = [18000,15000,12000,9000,6000,3000,0,-3000,-6000];
const ticksB = [14000,12000,10000,8000,6000,4000,2000,0,-2000,-4000];
const ticksInset = [8000,6000,4000,2000,0];

// ---------- styling ----------
const FONT = "'Open Sans', 'Noto Sans', 'DejaVu Sans', sans-serif";
const C = {
  expt: '#000000', exptB: '#3c3cff', fit: '#ff3030',
  eq: '#1f3a6e', eq2: '#34347a', ax0: '#ff6a3a', ax1: '#6a0a0a', ax2: '#a3a3a3',
  ax3: '#11999a', ax4: '#5b3167', ax4i: '#8e1a9e', oi: '#1b8a1b'
};
const Y = { a: [-5.25, 109], ia: [-12.15, 104], b: [-3, 116], ib: [-4.05, 102] };

function peakOf(d) { let p = d[0]; for (const q of d) if (q[1] > p[1]) p = q; return p; }

function line(name, data, axis, color, width, opt) {
  opt = opt || {};
  const s = {
    type: 'line', name: name, data: data, xAxisIndex: axis, yAxisIndex: axis,
    symbol: 'none', smooth: opt.smooth === undefined ? 0.3 : opt.smooth,
    smoothMonotone: 'x', z: opt.z || 4, silent: true, animation: false,
    lineStyle: { color: color, width: width, type: opt.dash || 'solid', cap: 'butt', join: 'round' },
    itemStyle: { color: color }
  };
  if (opt.drop !== undefined) {
    const p = peakOf(data);
    s.markLine = {
      silent: true, animation: false, symbol: ['none', 'none'], label: { show: false },
      lineStyle: { color: color, width: width, type: 'solid' },
      emphasis: { disabled: true },
      data: [[{ coord: [p[0], p[1]] }, { coord: [p[0], opt.drop] }]]
    };
  }
  return s;
}

const series = [
  // (a) main
  line('a-expt', aExpt, 0, C.expt, 3.4, { smooth: false, z: 2 }),
  line('a-fit', aFit, 0, C.fit, 3, { smooth: 0.25, z: 3, dash: [9, 4] }),
  line('a-eq', aOeq, 0, C.eq, 2.2, { drop: Y.a[0] }),
  line('a-ax0', aOax0, 0, C.ax0, 2.2, { drop: Y.a[0] }),
  line('a-ax1', aOax1, 0, C.ax1, 2.2, { drop: Y.a[0] }),
  line('a-ax2', aOax2, 0, C.ax2, 2.2, { drop: Y.a[0] }),
  line('a-ax3', aOax3, 0, C.ax3, 2.2, { drop: Y.a[0] }),
  line('a-ax4', aOax4, 0, C.ax4, 2.2, { drop: Y.a[0] }),
  line('a-i', aOi, 0, C.oi, 2.2, { drop: Y.a[0], smooth: 0.2 }),
  // (a) inset
  line('ia-expt', iaExpt, 1, C.expt, 3.2, { smooth: false, z: 2 }),
  line('ia-fit', iaFit, 1, C.fit, 2.6, { smooth: 0.25, z: 3, dash: [7, 3] }),
  line('ia-eq', iaOeq, 1, C.eq, 2),
  line('ia-eq2', iaOeq2, 1, C.eq2, 2),
  line('ia-ax0', iaOax0, 1, C.ax0, 2),
  line('ia-ax1', iaOax1, 1, C.ax1, 2),
  line('ia-ax2', iaOax2, 1, C.ax2, 2),
  line('ia-ax3', iaOax3, 1, C.ax3, 2),
  line('ia-ax4', iaOax4, 1, C.ax4i, 2),
  line('ia-i', iaOi, 1, C.oi, 2.4, { smooth: 0.2 }),
  // (b) main
  line('b-expt', bExpt, 2, C.exptB, 4, { smooth: false, z: 2 }),
  line('b-fit', bFit, 2, C.fit, 3, { smooth: 0.25, z: 3, dash: [9, 4] }),
  line('b-ax0', bOax0, 2, C.ax0, 2.2, { drop: Y.b[0] }),
  line('b-ax1', bOax1, 2, C.ax1, 2.2, { drop: Y.b[0] }),
  line('b-ax2', bOax2, 2, C.ax2, 2.2, { drop: Y.b[0] }),
  line('b-ax3', bOax3, 2, C.ax3, 2.2, { drop: Y.b[0] }),
  line('b-ax4', bOax4, 2, C.ax4, 2.2, { drop: Y.b[0] }),
  line('b-i', bOi, 2, C.oi, 2.2, { drop: Y.b[0], smooth: 0.2 }),
  // (b) inset
  line('ib-expt', ibExpt, 3, C.exptB, 4, { smooth: false, z: 2 }),
  line('ib-fit', ibFit, 3, C.fit, 2.6, { smooth: 0.25, z: 3, dash: [7, 3] }),
  line('ib-ax0', ibOax0, 3, C.ax0, 2),
  line('ib-ax1', ibOax1, 3, C.ax1, 2),
  line('ib-ax2', ibOax2, 3, '#8c8c8c', 2),
  line('ib-ax3', ibOax3, 3, C.ax3, 2),
  line('ib-ax4', ibOax4, 3, C.ax4, 2),
  line('ib-i', ibOi, 3, C.oi, 2.4, { smooth: 0.2 })
];

// axis helpers
const supName = '{sup|17}{n|O shift / ppm}';
function xAxis(grid, min, max, ticks, o) {
  return {
    type: 'value', gridIndex: grid, inverse: true, min: min, max: max,
    splitLine: { show: false },
    axisLine: { show: true, onZero: false, lineStyle: { color: '#000', width: o.lw } },
    axisTick: { show: true, inside: true, length: o.tl, customValues: ticks, lineStyle: { color: '#000', width: o.tw } },
    axisLabel: { show: true, customValues: ticks, formatter: v => String(v), margin: o.margin,
      fontSize: o.fs, lineHeight: o.lh, color: '#000', fontFamily: FONT },
    name: supName, nameLocation: 'middle', nameGap: o.gap,
    nameTextStyle: {
      padding: o.pad, fontFamily: FONT,
      rich: {
        sup: { fontSize: o.sfs, fontFamily: FONT, color: '#000', verticalAlign: 'top', lineHeight: o.sfs, padding: [o.sp, 1, 0, 0] },
        n: { fontSize: o.nfs, fontFamily: FONT, color: '#000', lineHeight: o.nlh }
      }
    }
  };
}
function yAxis(grid, r) {
  return { type: 'value', gridIndex: grid, min: r[0], max: r[1], show: false, splitLine: { show: false } };
}

// legends: one entry per row, line icon only
const bigRich = { big: { fontSize: 25, fontWeight: 'bold', fontFamily: FONT, color: '#000', lineHeight: 28 } };
const subRich = {
  o: { fontSize: 23, fontWeight: 'bold', fontFamily: FONT, color: '#000', lineHeight: 24 },
  s: { fontSize: 15, fontWeight: 'bold', fontFamily: FONT, color: '#000', lineHeight: 15, verticalAlign: 'bottom', padding: [0, 0, 0, 1] }
};
const legendLabels = {
  'a-expt': '{big|Expt.}', 'a-fit': '{big|Fit (sum)}',
  'a-eq': '{o|O}{s|eq}', 'a-ax0': '{o|O}{s|ax,0}', 'a-ax1': '{o|O}{s|ax,1}', 'a-ax2': '{o|O}{s|ax,2}',
  'a-ax3': '{o|O}{s|ax,3}', 'a-ax4': '{o|O}{s|ax,4}', 'a-i': '{o|O}{s|i}',
  'b-expt': '{big|Expt.}', 'b-fit': '{big|Fit (sum)}',
  'b-ax0': '{o|O}{s|ax,0}', 'b-ax1': '{o|O}{s|ax,1}', 'b-ax2': '{o|O}{s|ax,2}',
  'b-ax3': '{o|O}{s|ax,3}', 'b-ax4': '{o|O}{s|ax,4}', 'b-i': '{o|O}{s|i}'
};
const legendRows = [
  ['a-expt', 707, 43, true], ['a-fit', 707, 82, true],
  ['a-eq', 735, 116], ['a-ax0', 735, 151], ['a-ax1', 735, 183], ['a-ax2', 735, 215],
  ['a-ax3', 735, 247], ['a-ax4', 735, 278], ['a-i', 735, 315],
  ['b-expt', 707, 632, true], ['b-fit', 707, 672, true],
  ['b-ax0', 735, 713], ['b-ax1', 735, 744], ['b-ax2', 735, 776],
  ['b-ax3', 735, 807], ['b-ax4', 735, 839], ['b-i', 735, 877]
];
const legends = legendRows.map(r => ({
  data: [r[0]], left: r[1], top: r[2] - (r[3] ? 14 : 12), orient: 'horizontal',
  padding: 0, itemGap: 0, itemWidth: 31, itemHeight: 12, selectedMode: false,
  itemStyle: { opacity: 0, borderWidth: 0 },
  lineStyle: { width: r[3] ? 3 : 3.4 },
  formatter: n => legendLabels[n],
  textStyle: { fontFamily: FONT, color: '#000', padding: [0, 0, 0, 8], rich: r[3] ? bigRich : subRich }
}));

// annotation text helpers
function rtext(x, y, text, rich, align) {
  return { type: 'text', x: x, y: y, z: 10, silent: true,
    style: { text: text, rich: rich, fill: '#000', fontFamily: FONT,
      textAlign: align || 'left', textVerticalAlign: 'middle', align: align || 'left', verticalAlign: 'middle' } };
}
const peakRich = {
  o: { fontSize: 23, fontWeight: 'bold', fontFamily: FONT, color: '#000', lineHeight: 24 },
  s: { fontSize: 18, fontWeight: 'bold', fontFamily: FONT, color: '#000', lineHeight: 18, verticalAlign: 'bottom', padding: [0, 0, 0, 1] },
  si: { fontSize: 18, fontWeight: 'bold', fontFamily: FONT, color: '#000', lineHeight: 18, verticalAlign: 'bottom', padding: [0, 0, 0, 0] }
};
const titleRich = {
  b: { fontSize: 24, fontWeight: 'bold', fontFamily: FONT, color: '#000', lineHeight: 30 },
  p: { fontSize: 27, fontFamily: "'Liberation Serif', 'DejaVu Serif', serif", color: '#000', lineHeight: 30 },
  q: { fontSize: 22, fontWeight: 'bold', fontFamily: FONT, color: '#000', lineHeight: 30 },
  n: { fontSize: 21, fontFamily: FONT, color: '#000', lineHeight: 30 }
};
const boldRich = (fs) => ({ t: { fontSize: fs, fontWeight: 'bold', fontFamily: FONT, color: '#000', lineHeight: fs + 4 } });

function bez(x1, y1, c1x, c1y, c2x, c2y, x2, y2) {
  return { type: 'bezierCurve', silent: true, z: 10,
    shape: { x1: x1, y1: y1, cpx1: c1x, cpy1: c1y, cpx2: c2x, cpy2: c2y, x2: x2, y2: y2 },
    style: { stroke: '#000', lineWidth: 2.4, fill: null } };
}

const graphics = [
  { type: 'line', silent: true, z: 0, shape: { x1: 0, y1: 584, x2: 880, y2: 584 }, style: { stroke: '#dcdcdc', lineWidth: 1.5 } },
  { type: 'rect', silent: true, z: 0, shape: { x: 11, y: 59, width: 336, height: 293 }, style: { fill: '#fff', stroke: '#c8c8c8', lineWidth: 2 } },
  { type: 'rect', silent: true, z: 0, shape: { x: 32, y: 645, width: 305, height: 348 }, style: { fill: '#fff', stroke: '#c8c8c8', lineWidth: 2 } },
  rtext(12, 27, '{b|(a)} {p|π}{q|/6} {n|pulse (quad.)}', titleRich),
  rtext(12, 616, '{b|(b)} {p|π}{q|/2} {n|pulse (non-quad.)}', titleRich),
  rtext(395, 42, '{o|O}{s|eq}', peakRich),
  rtext(486, 42, '{o|O}{s|ax}', peakRich),
  rtext(610, 42, '{o|O}{si|i}', peakRich),
  rtext(459, 652, '{o|O}{s|ax}', peakRich),
  rtext(621, 822, '{o|O}{si|i}', peakRich),
  rtext(875, 437, '{t|Hahn echo}', boldRich(21), 'right'),
  rtext(875, 1070, '{t|Hahn echo}', boldRich(21), 'right'),
  rtext(335, 77, '{t|MATPASS}', boldRich(16), 'right'),
  rtext(45, 664, '{t|MATPASS}', boldRich(16)),
  bez(453, 77, 453, 71, 460, 69.5, 475, 69.5),
  { type: 'line', silent: true, z: 10, shape: { x1: 475, y1: 69.5, x2: 497, y2: 69.5 }, style: { stroke: '#000', lineWidth: 2.4 } },
  bez(497, 69.5, 505, 69.5, 508, 67, 510, 62.5),
  bez(510, 62.5, 512, 67, 515, 69.5, 523, 69.5),
  { type: 'line', silent: true, z: 10, shape: { x1: 523, y1: 69.5, x2: 545, y2: 69.5 }, style: { stroke: '#000', lineWidth: 2.4 } },
  bez(545, 69.5, 560, 69.5, 567, 71, 567, 77)
];

const option = {
  animation: false,
  backgroundColor: '#ffffff',
  textStyle: { fontFamily: FONT },
  grid: [
    { left: 10, width: 870, top: 40, height: 457, containLabel: false, outerBoundsMode: 'none' },
    { left: 23.3, width: 314.3, top: 66, height: 232.3, containLabel: false, outerBoundsMode: 'none' },
    { left: 36.4, width: 844, top: 640, height: 476, containLabel: false, outerBoundsMode: 'none' },
    { left: 39.3, width: 293.4, top: 655, height: 280, containLabel: false, outerBoundsMode: 'none' }
  ],
  xAxis: [
    xAxis(0, -7750, 20000, ticksA, { lw: 3.5, tl: 7, tw: 2.6, margin: 7.5, fs: 21, lh: 24, gap: 35.5, pad: [0, 0, 0, 38], sfs: 11, sp: 4, nfs: 22, nlh: 26 }),
    xAxis(1, -500, 9400, ticksInset, { lw: 3, tl: 5, tw: 2.2, margin: 6, fs: 17, lh: 20, gap: 28.5, pad: [0, 0, 0, 14], sfs: 9, sp: 3, nfs: 16, nlh: 20 }),
    xAxis(2, -4950, 14000, ticksB, { lw: 3.5, tl: 7, tw: 2.6, margin: 12, fs: 21, lh: 24, gap: 54.5, pad: [0, 0, 0, 12], sfs: 11, sp: 4, nfs: 22, nlh: 26 }),
    xAxis(3, -860, 9050, ticksInset, { lw: 3, tl: 5, tw: 2.2, margin: 6.5, fs: 17, lh: 20, gap: 32.5, pad: [0, 14, 0, 0], sfs: 9, sp: 3, nfs: 16, nlh: 20 })
  ],
  yAxis: [yAxis(0, Y.a), yAxis(1, Y.ia), yAxis(2, Y.b), yAxis(3, Y.ib)],
  legend: legends,
  graphic: { elements: graphics },
  series: series
};

const chart = echarts.init(document.getElementById('chart'), null, { renderer: 'canvas' });
chart.setOption(option);
</script>
</body>
</html>
